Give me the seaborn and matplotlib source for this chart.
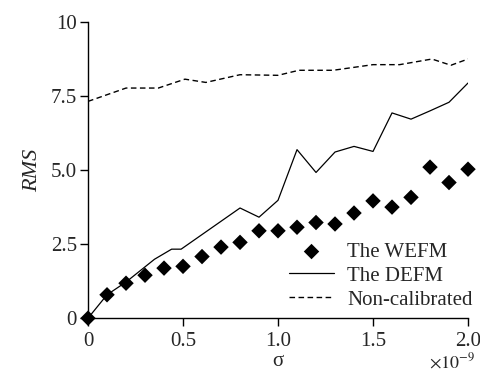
import matplotlib
matplotlib.use("Agg")
import matplotlib.pyplot as plt
import numpy as np
import pandas as pd
import seaborn as sns

# sigma in units of 1e-9
wefm_x = [0, 0.1, 0.2, 0.3, 0.4, 0.5, 0.6, 0.7, 0.8, 0.9, 1.0,
          1.1, 1.2, 1.3, 1.4, 1.5, 1.6, 1.7, 1.8, 1.9, 2.0]
wefm_y = [0, 0.79, 1.18, 1.45, 1.69, 1.75, 2.08, 2.40, 2.56, 2.95, 2.95,
          3.07, 3.23, 3.18, 3.55, 3.96, 3.75, 4.08, 5.10, 4.58, 5.03]

defm_x = [0, 0.1, 0.2, 0.35, 0.44, 0.49, 0.8, 0.9, 1.0, 1.1, 1.2,
          1.3, 1.4, 1.5, 1.6, 1.7, 1.8, 1.9, 2.0]
defm_y = [0, 0.79, 1.22, 1.99, 2.33, 2.33, 3.72, 3.41, 3.98, 5.69, 4.92,
          5.61, 5.80, 5.63, 6.93, 6.72, 7.00, 7.29, 7.94]

nc_x = [0, 0.2, 0.37, 0.51, 0.62, 0.8, 1.0, 1.11, 1.29, 1.5, 1.64,
        1.81, 1.91, 2.0]
nc_y = [7.32, 7.77, 7.77, 8.07, 7.96, 8.22, 8.20, 8.37, 8.37, 8.56, 8.56,
        8.75, 8.54, 8.75]

sns.set_style("ticks")
plt.rcParams['font.family'] = ['Liberation Serif', 'DejaVu Serif']
plt.rcParams['mathtext.fontset'] = 'stix'

fig = plt.figure(figsize=(4.81, 3.73), dpi=100)
ax = fig.add_axes([0.183, 0.147, 0.790, 0.794])

sns.scatterplot(x=wefm_x, y=wefm_y, ax=ax, marker='D', s=62, color='black',
                edgecolor='none', label='The WEFM', clip_on=False, zorder=3)
sns.lineplot(x=defm_x, y=defm_y, ax=ax, color='black', lw=0.9,
             label='The DEFM', sort=False)
sns.lineplot(x=nc_x, y=nc_y, ax=ax, color='black', lw=1.0,
             label='Non-calibrated', sort=False)
ax.lines[-1].set_dashes([4, 2.5])

ax.set_xlim(0, 2.0)
ax.set_ylim(0, 10)
ax.set_xticks([0, 0.5, 1.0, 1.5, 2.0])
ax.set_xticklabels(['0', '0.5', '1.0', '1.5', '2.0'])
ax.set_yticks([0, 2.5, 5.0, 7.5, 10])
ax.set_yticklabels(['0', '2.5', '5.0', '7.5', '10'])
ax.tick_params(labelsize=15, width=1, length=6, color='black', pad=2,
               direction='out')
ax.tick_params(axis='x', pad=4)
sns.despine(ax=ax)
for sp in ['left', 'bottom']:
    ax.spines[sp].set_linewidth(1)
    ax.spines[sp].set_color('black')

ax.set_ylabel('RMS', fontsize=16, style='italic', labelpad=6)
ax.set_xlabel('σ', fontsize=15, labelpad=1)
fig.text(0.94, 0.002, r'$\times 10^{-9}$', ha='center', va='bottom',
         fontsize=13)

ax.legend(loc='lower right', bbox_to_anchor=(1.05, -0.02), frameon=False,
          fontsize=15, handlelength=2.2, labelspacing=0.2, handletextpad=0.6,
          borderaxespad=0.3)

fig.savefig('out.png', dpi=100)
